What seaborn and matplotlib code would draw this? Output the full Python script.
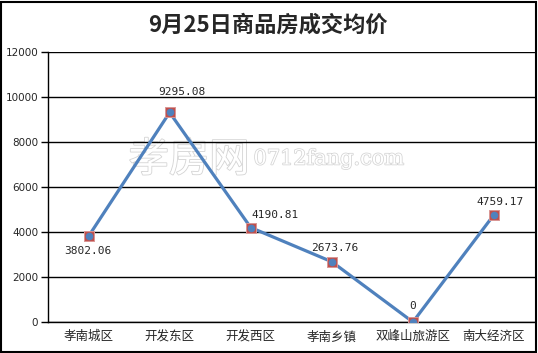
import matplotlib
matplotlib.use("Agg")
import matplotlib.pyplot as plt
import matplotlib.patheffects as pe
from matplotlib.patches import Rectangle
import seaborn as sns
import pandas as pd

categories = ["孝南城区", "开发东区", "开发西区", "孝南乡镇", "双峰山旅游区", "南大经济区"]
values = [3802.06, 9295.08, 4190.81, 2673.76, 0, 4759.17]
value_labels = ["3802.06", "9295.08", "4190.81", "2673.76", "0", "4759.17"]
y_ticks = [0, 2000, 4000, 6000, 8000, 10000, 12000]
title = "9月25日商品房成交均价"

sns.set_style("white")
plt.rcParams['font.family'] = ['Noto Sans CJK SC', 'DejaVu Sans']

df = pd.DataFrame({"cat": categories, "val": values, "pos": range(len(categories))})

fig = plt.figure(figsize=(5.38, 3.53), dpi=100)
ax = fig.add_axes([48/538, 31/353, (534.5-48)/538, (322-51.5)/353])

# watermark (below gridlines)
ax.text(189/538, 1-160/353, "孝房网", fontsize=29, color="white", ha="center", va="center",
        family=["Noto Sans CJK SC"], transform=fig.transFigure, zorder=0.5,
        path_effects=[pe.withStroke(linewidth=1.2, foreground="#d4d4d4")])
ax.text(329/538, 1-159/353, "0712fang.com", fontsize=15, color="white", ha="center", va="center",
        family=["DejaVu Serif"], transform=fig.transFigure, zorder=0.5,
        path_effects=[pe.withStroke(linewidth=1.1, foreground="#d4d4d4")])

ax.set_facecolor("none")
for yt in y_ticks:
    ax.axhline(yt, color="black", lw=1, zorder=1)

sns.lineplot(data=df, x="pos", y="val", ax=ax, color="#4F81BD", lw=2.3, sort=False, zorder=3)
sns.scatterplot(data=df, x="pos", y="val", ax=ax, marker="s", s=50, color="#C0504D",
                edgecolor="#D99694", linewidth=0.7, zorder=4)
sns.scatterplot(data=df, x="pos", y="val", ax=ax, marker="o", s=30, color="#4F81BD",
                edgecolor="#4F81BD", linewidth=0, zorder=5)

offsets = [(-1, -15), (12, 20), (24, 13), (3, 14), (0, 16), (6, 13)]
for i, (v, lab) in enumerate(zip(values, value_labels)):
    ax.annotate(lab, (i, v), xytext=offsets[i], textcoords="offset pixels",
                ha="center", va="center", fontsize=8, family=["DejaVu Sans Mono"], zorder=6)

ax.set_xlim(-0.5, len(categories) - 0.5)
ax.set_ylim(0, 12000)
ax.set_yticks(y_ticks)
ax.set_yticklabels([str(t) for t in y_ticks], fontsize=7.5, family=["DejaVu Sans"])
ax.set_xticks(range(len(categories)))
ax.set_xticklabels(categories, fontsize=9)
ax.set_xticks([i - 0.5 for i in range(len(categories) + 1)], minor=True)
ax.tick_params(axis="x", which="major", length=0, pad=6)
ax.tick_params(axis="x", which="minor", length=5, width=1, color="black", direction="out")
ax.tick_params(axis="y", length=5, width=1, color="black", direction="out", pad=2, left=True)
ax.set_xlabel("")
ax.set_ylabel("")
for s in ["top", "right"]:
    ax.spines[s].set_visible(False)
for s in ["left", "bottom"]:
    ax.spines[s].set_color("black")
    ax.spines[s].set_linewidth(1)

fig.text(268/538, 1-25/353, title, fontsize=16, fontweight="bold", ha="center", va="center")

fig.patches.append(Rectangle((1/538, 1/353), 535/538, 350/353, transform=fig.transFigure,
                             fill=False, edgecolor="black", lw=1.5))

fig.savefig("out.png", dpi=100)
